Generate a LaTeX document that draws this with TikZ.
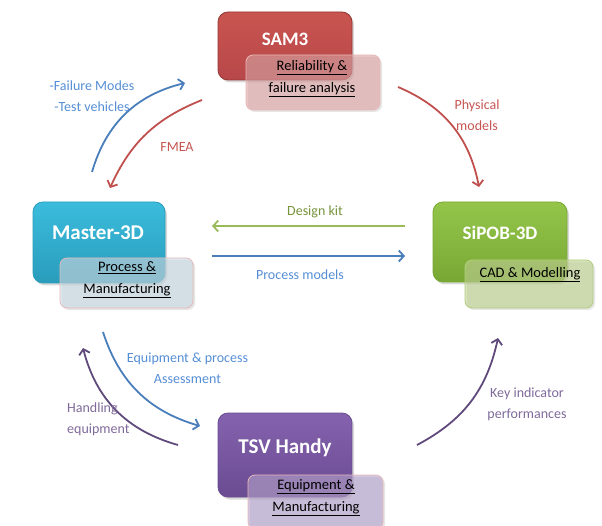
\documentclass[tikz,border=0pt]{standalone}
\usepackage{fontspec}
\setmainfont{Carlito}
\usetikzlibrary{arrows.meta, shadows, positioning}

\definecolor{redtop}{HTML}{C9554F}
\definecolor{redbot}{HTML}{B8474A}
\definecolor{redline}{HTML}{943634}
\definecolor{redsub}{HTML}{DCA0A0}
\definecolor{aquatop}{HTML}{3BBCDC}
\definecolor{aquabot}{HTML}{2A9CBC}
\definecolor{aquasub}{HTML}{C8DAE4}
\definecolor{greentop}{HTML}{94C54A}
\definecolor{greenbot}{HTML}{78A834}
\definecolor{greensub}{HTML}{BED28C}
\definecolor{greenline}{HTML}{B0CC7E}
\definecolor{purptop}{HTML}{8562AE}
\definecolor{purpbot}{HTML}{6A4C92}
\definecolor{purpsub}{HTML}{B4A0CD}
\definecolor{pinkline}{HTML}{E6B9B8}
\definecolor{flowblue}{HTML}{4A7EBB}
\definecolor{flowred}{HTML}{C0504D}
\definecolor{flowgreen}{HTML}{9BBB59}
\definecolor{flowpurp}{HTML}{604A7B}
\definecolor{txtblue}{HTML}{558ED5}
\definecolor{txtred}{HTML}{C65652}
\definecolor{txtgreen}{HTML}{77933C}
\definecolor{txtpurp}{HTML}{7F6A9A}

\begin{document}
\begin{tikzpicture}[x=1pt, y=1pt,
  mainbox/.style={rounded corners=10pt, line width=0.8pt,
    drop shadow={opacity=0.3, shadow xshift=2pt, shadow yshift=-2.5pt}},
  subbox/.style={rounded corners=7pt, line width=0.8pt, fill opacity=0.6,
    drop shadow={opacity=0.2, shadow xshift=2pt, shadow yshift=-2pt}},
  boxtitle/.style={text=white, font=\fontsize{19}{23}\selectfont\bfseries, inner sep=0pt},
  bigtitle/.style={boxtitle, font=\fontsize{21}{25}\selectfont\bfseries},
  boxtext/.style={font=\fontsize{14.5}{22}\selectfont, align=center, inner sep=0pt},
  flowtext/.style={font=\fontsize{14}{21}\selectfont, align=center, inner sep=0pt},
  flow/.style={line width=1.8pt, -{Straight Barb[length=5pt, width=11pt]}}]

  \useasboundingbox (0,0) rectangle (602,525);

  % the four partners
  \node[mainbox, top color=redtop, bottom color=redbot, draw=redline,
        minimum width=134pt, minimum height=68pt] (sam) at (285,479) {};
  \node[subbox, fill=redsub, draw=pinkline,
        minimum width=134pt, minimum height=55pt] (samsub) at (313,442.5) {};
  \node[boxtitle] (samname) at (285,486) {SAM3};
  \node[boxtext] (samtext) at (312,446) {\underline{Reliability \&}\\\underline{failure analysis}};

  \node[mainbox, top color=aquatop, bottom color=aquabot, draw=aquabot,
        minimum width=132pt, minimum height=81pt] (master) at (99,282.5) {};
  \node[subbox, fill=aquasub, draw=pinkline,
        minimum width=133pt, minimum height=50pt] (mastersub) at (126.5,242) {};
  \node[bigtitle] (mastername) at (98,292) {Master-3D};
  \node[boxtext] (mastertext) at (127,245) {\underline{Process \&}\\\underline{Manufacturing}};

  \node[mainbox, top color=greentop, bottom color=greenbot, draw=greenbot,
        minimum width=134pt, minimum height=80pt] (sipob) at (500,283) {};
  \node[subbox, fill=greensub, draw=greenline,
        minimum width=128pt, minimum height=48pt] (sipobsub) at (529,241) {};
  \node[boxtitle] (sipobname) at (500,292) {SiPOB-3D};
  \node[boxtext] (sipobtext) at (530,250) {\underline{CAD \& Modelling}};

  \node[mainbox, top color=purptop, bottom color=purpbot, draw=purpbot,
        minimum width=134pt, minimum height=84pt] (tsv) at (285,70) {};
  \node[subbox, fill=purpsub, draw=pinkline,
        minimum width=135pt, minimum height=54pt] (tsvsub) at (315.5,23) {};
  \node[bigtitle] (tsvname) at (285,77) {TSV Handy};
  \node[boxtext] (tsvtext) at (316,27) {\underline{Equipment \&}\\\underline{Manufacturing}};

  % arrow ends
  \coordinate (fmA) at (92,353);   \coordinate (fmB) at (185,442);
  \coordinate (feA) at (202,425);  \coordinate (feB) at (110,337);
  \coordinate (phA) at (398,438);  \coordinate (phB) at (479,338);
  \coordinate (dkA) at (405,299);  \coordinate (dkB) at (212,299);
  \coordinate (pmA) at (212,269);  \coordinate (pmB) at (405,269);
  \coordinate (eqA) at (103,193);  \coordinate (eqB) at (200,99);
  \coordinate (haA) at (178,80);   \coordinate (haB) at (83,177);
  \coordinate (kiA) at (417,80);   \coordinate (kiB) at (498,187);

  \draw[flow, flowblue] (fmA) to[bend left=30] (fmB);
  \draw[flow, flowred] (feA) to[bend right=22] (feB);
  \draw[flow, flowred] (phA) to[bend left=28] (phB);
  \draw[flow, flowgreen] (dkA) -- (dkB);
  \draw[flow, flowblue] (pmA) -- (pmB);
  \draw[flow, flowblue] (eqA) to[bend right=28] (eqB);
  \draw[flow, flowpurp] (haA) to[bend left=30] (haB);
  \draw[flow, flowpurp] (kiA) to[bend right=25] (kiB);

  % labels
  \node[flowtext, text=txtblue] (fmlabel) at (92,428.5) {-Failure Modes\\-Test vehicles};
  \node[flowtext, text=txtred] (felabel) at (177,378) {FMEA};
  \node[flowtext, text=txtred] (phlabel) at (477,409.5) {Physical\\models};
  \node[flowtext, text=txtgreen] (dklabel) at (315,313) {Design kit};
  \node[flowtext, text=txtblue] (pmlabel) at (300,250) {Process models};
  \node[flowtext, text=txtblue] (eqlabel) at (187.5,157) {Equipment \& process\\Assessment};
  \node[flowtext, text=txtpurp, align=left, anchor=west] (halabel) at (67,106) {Handling\\equipment};
  \node[flowtext, text=txtpurp] (kilabel) at (527,121) {Key indicator\\performances};

\end{tikzpicture}
\end{document}
